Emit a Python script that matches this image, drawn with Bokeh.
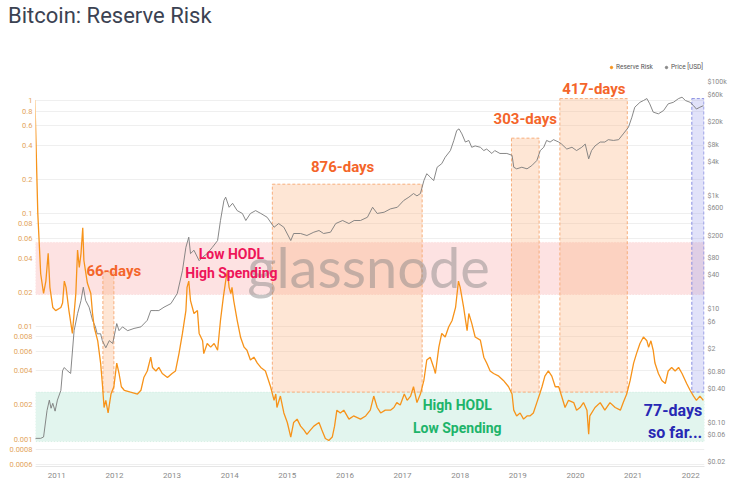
from bokeh.plotting import figure
from bokeh.models import (Range1d, LogAxis, LogScale, FixedTicker, BoxAnnotation,
                          Legend, LegendItem, ColumnDataSource, Div, CustomJSTickFormatter)
from bokeh.layouts import column
from bokeh.core.properties import value
from bokeh.embed import file_html
from bokeh.resources import INLINE

# ---------------- data ----------------
rr_year = [2010.62, 2010.67, 2010.72, 2010.77, 2010.81, 2010.85, 2010.88, 2010.93, 2010.98, 2011.07,
           2011.10, 2011.13, 2011.16, 2011.21, 2011.27, 2011.33, 2011.36, 2011.39, 2011.42, 2011.45,
           2011.47, 2011.53, 2011.59, 2011.62, 2011.65, 2011.71, 2011.76, 2011.79, 2011.82, 2011.85,
           2011.89, 2011.94, 2011.99, 2012.04, 2012.08, 2012.12, 2012.17, 2012.28, 2012.40, 2012.46,
           2012.51, 2012.57, 2012.63, 2012.66, 2012.72, 2012.77, 2012.83, 2012.92, 2013.00, 2013.06,
           2013.12, 2013.18, 2013.24, 2013.26, 2013.29, 2013.32, 2013.38, 2013.44, 2013.47, 2013.53,
           2013.55, 2013.61, 2013.67, 2013.73, 2013.79, 2013.84, 2013.89, 2013.93, 2013.96, 2013.99,
           2014.02, 2014.04, 2014.07, 2014.13, 2014.19, 2014.25, 2014.30, 2014.36, 2014.42, 2014.48,
           2014.54, 2014.62, 2014.71, 2014.77, 2014.80, 2014.82, 2014.88, 2014.94, 2015.00, 2015.06,
           2015.11, 2015.17, 2015.23, 2015.29, 2015.34, 2015.40, 2015.46, 2015.55, 2015.60, 2015.66,
           2015.72, 2015.78, 2015.82, 2015.86, 2015.92, 2015.98, 2016.07, 2016.15, 2016.27, 2016.36,
           2016.44, 2016.50, 2016.56, 2016.62, 2016.70, 2016.79, 2016.85, 2016.90, 2016.96, 2017.03,
           2017.08, 2017.14, 2017.19, 2017.25, 2017.31, 2017.37, 2017.42, 2017.48, 2017.54, 2017.57,
           2017.63, 2017.68, 2017.74, 2017.80, 2017.86, 2017.92, 2017.97, 2018.00, 2018.06, 2018.12,
           2018.15, 2018.20, 2018.26, 2018.35, 2018.41, 2018.46, 2018.52, 2018.58, 2018.67, 2018.75,
           2018.84, 2018.90, 2018.93, 2018.98, 2019.04, 2019.10, 2019.16, 2019.21, 2019.27, 2019.33,
           2019.38, 2019.42, 2019.47, 2019.53, 2019.59, 2019.65, 2019.71, 2019.76, 2019.82, 2019.88,
           2019.97, 2020.02, 2020.08, 2020.14, 2020.20, 2020.23, 2020.25, 2020.34, 2020.43, 2020.51,
           2020.60, 2020.69, 2020.78, 2020.83, 2020.89, 2020.95, 2021.01, 2021.06, 2021.12, 2021.18,
           2021.24, 2021.27, 2021.31, 2021.35, 2021.38, 2021.44, 2021.50, 2021.56, 2021.61, 2021.67,
           2021.73, 2021.79, 2021.85, 2021.93, 2021.99, 2022.05, 2022.10, 2022.16, 2022.22]
rr_value = [1.0, 0.099, 0.029, 0.0194, 0.025, 0.044, 0.022, 0.0146, 0.0137, 0.0146,
            0.016, 0.025, 0.022, 0.0137, 0.0086, 0.0194, 0.047, 0.033, 0.044, 0.074,
            0.038, 0.024, 0.0194, 0.0129, 0.0097, 0.0074, 0.0047, 0.0031, 0.0019, 0.0022,
            0.0017, 0.0025, 0.0029, 0.0047, 0.0038, 0.0029, 0.0027, 0.0026, 0.0025, 0.0027,
            0.0035, 0.004, 0.0053, 0.0043, 0.004, 0.0043, 0.0038, 0.0035, 0.0038, 0.004,
            0.0057, 0.0086, 0.0137, 0.022, 0.025, 0.0168, 0.0129, 0.0137, 0.0086, 0.0074,
            0.0057, 0.007, 0.0065, 0.007, 0.0061, 0.0112, 0.018, 0.025, 0.031, 0.022,
            0.0194, 0.022, 0.0168, 0.0112, 0.0079, 0.0065, 0.0061, 0.005, 0.0053, 0.0047,
            0.0043, 0.004, 0.0029, 0.0022, 0.0025, 0.0019, 0.0024, 0.0017, 0.0014, 0.00104,
            0.0014, 0.0015, 0.0013, 0.0012, 0.0011, 0.0012, 0.0013, 0.0014, 0.0012, 0.00101,
            0.00097, 0.00104, 0.0013, 0.0018, 0.0017, 0.0018, 0.0015, 0.0016, 0.0015, 0.0016,
            0.0018, 0.0024, 0.0019, 0.0017, 0.0018, 0.0018, 0.0019, 0.0021, 0.002, 0.0025,
            0.0022, 0.0024, 0.0029, 0.0021, 0.0025, 0.0033, 0.005, 0.0053, 0.0043, 0.0038,
            0.0065, 0.0086, 0.008, 0.0098, 0.0112, 0.0146, 0.025, 0.022, 0.0146, 0.0091,
            0.0129, 0.0106, 0.008, 0.0075, 0.0053, 0.0047, 0.004, 0.0038, 0.0036, 0.0033,
            0.0029, 0.0025, 0.0018, 0.0016, 0.0017, 0.0015, 0.0016, 0.0016, 0.0017, 0.0021,
            0.0025, 0.0029, 0.0036, 0.004, 0.0036, 0.0029, 0.0029, 0.0024, 0.0019, 0.0022,
            0.0021, 0.0018, 0.0019, 0.0021, 0.0018, 0.0011, 0.0016, 0.0019, 0.0021, 0.0018,
            0.0021, 0.0019, 0.0018, 0.0021, 0.0025, 0.0033, 0.0047, 0.0057, 0.007, 0.008,
            0.0074, 0.0065, 0.0074, 0.0061, 0.0047, 0.0038, 0.0033, 0.0031, 0.004, 0.0043,
            0.004, 0.0043, 0.0038, 0.0031, 0.0027, 0.0024, 0.0022, 0.0024, 0.0022]

price_year = [2010.62, 2010.72, 2010.77, 2010.83, 2010.87, 2010.90, 2010.93, 2010.97, 2011.01, 2011.07,
              2011.10, 2011.13, 2011.18, 2011.24, 2011.30, 2011.36, 2011.42, 2011.46, 2011.50, 2011.56,
              2011.59, 2011.62, 2011.67, 2011.70, 2011.76, 2011.79, 2011.85, 2011.91, 2011.97, 2012.04,
              2012.08, 2012.14, 2012.23, 2012.34, 2012.46, 2012.57, 2012.63, 2012.72, 2012.77, 2012.86,
              2012.98, 2013.09, 2013.18, 2013.24, 2013.29, 2013.32, 2013.38, 2013.47, 2013.53, 2013.61,
              2013.70, 2013.79, 2013.84, 2013.90, 2013.93, 2013.99, 2014.05, 2014.13, 2014.22, 2014.28,
              2014.36, 2014.45, 2014.54, 2014.65, 2014.77, 2014.85, 2014.94, 2015.06, 2015.11, 2015.23,
              2015.34, 2015.46, 2015.55, 2015.63, 2015.75, 2015.84, 2015.96, 2016.07, 2016.16, 2016.27,
              2016.39, 2016.48, 2016.56, 2016.68, 2016.79, 2016.91, 2017.02, 2017.11, 2017.19, 2017.25,
              2017.31, 2017.37, 2017.42, 2017.48, 2017.54, 2017.60, 2017.68, 2017.74, 2017.83, 2017.89,
              2017.94, 2017.98, 2018.03, 2018.09, 2018.15, 2018.20, 2018.26, 2018.35, 2018.41, 2018.46,
              2018.55, 2018.60, 2018.69, 2018.81, 2018.90, 2018.93, 2018.98, 2019.07, 2019.16, 2019.24,
              2019.33, 2019.39, 2019.45, 2019.50, 2019.56, 2019.62, 2019.71, 2019.76, 2019.85, 2019.94,
              2020.02, 2020.11, 2020.17, 2020.23, 2020.28, 2020.34, 2020.43, 2020.51, 2020.57, 2020.66,
              2020.75, 2020.83, 2020.92, 2020.98, 2021.03, 2021.12, 2021.18, 2021.24, 2021.29, 2021.35,
              2021.44, 2021.53, 2021.61, 2021.70, 2021.79, 2021.85, 2021.91, 2021.99, 2022.05, 2022.10,
              2022.16, 2022.22]
price_usd = [0.053, 0.053, 0.056, 0.164, 0.25, 0.18, 0.22, 0.16, 0.25, 0.37,
             0.83, 0.94, 0.83, 0.74, 4.2, 8.4, 14.3, 24.5, 14.3, 10.9,
             8.4, 6.4, 4.9, 3.7, 3.7, 2.8, 2.1, 2.8, 2.5, 5.6,
             4.2, 4.9, 4.2, 4.6, 4.9, 6.4, 9.5, 9.5, 9.5, 10.9,
             12.6, 19, 48, 124, 187, 96, 110, 72, 83, 96,
             124, 163, 368, 830, 950, 630, 740, 550, 490, 368,
             490, 550, 490, 420, 280, 325, 280, 163, 217, 217,
             200, 229, 245, 217, 229, 325, 368, 325, 368, 368,
             420, 630, 490, 515, 590, 630, 830, 950, 1100, 1000,
             1100, 1860, 2460, 2150, 1860, 3200, 3700, 4800, 6300, 9500,
             14200, 15200, 12400, 8900, 9500, 7200, 7600, 7200, 6300, 6700,
             5600, 6300, 5600, 5600, 5200, 3200, 3000, 3200, 3000, 3400,
             4200, 6300, 7200, 9500, 8900, 9800, 8900, 8200, 6700, 7200,
             6300, 7200, 8200, 4500, 6300, 7600, 8900, 8900, 9800, 9500,
             9800, 12400, 16200, 24400, 36600, 44700, 48000, 52000, 42000, 30000,
             28000, 32000, 42000, 44700, 52000, 55000, 48000, 44700, 39000, 34000,
             36600, 39000]

# zones (reserve risk values)
red_zone = [0.019, 0.055]
green_zone = [0.00095, 0.0026]

# low-reserve-risk periods
period_start = [2011.80, 2014.74, 2018.89, 2019.73]
period_end = [2011.99, 2017.34, 2019.37, 2020.90]
period_top = [0.030, 0.18, 0.46, 1.03]
period_label = ["66-days", "876-days", "303-days", "417-days"]
current_start = [2022.02]
current_end = [2022.23]
current_top = [1.03]

# ticks
year_ticks = [2011, 2012, 2013, 2014, 2015, 2016, 2017, 2018, 2019, 2020, 2021, 2022]
year_labels = [str(y) for y in year_ticks]
rr_ticks = [0.0006, 0.0008, 0.001, 0.002, 0.004, 0.006, 0.008, 0.01, 0.02, 0.04,
            0.06, 0.08, 0.1, 0.2, 0.4, 0.6, 0.8, 1]
rr_labels = ["0.0006", "0.0008", "0.001", "0.002", "0.004", "0.006", "0.008", "0.01", "0.02", "0.04",
             "0.06", "0.08", "0.1", "0.2", "0.4", "0.6", "0.8", "1"]
price_ticks = [0.02, 0.06, 0.1, 0.4, 0.8, 2, 6, 10, 40, 80, 200, 600, 1000, 4000, 8000,
               20000, 60000, 100000]
price_labels = ["$0.02", "$0.06", "$0.10", "$0.40", "$0.80", "$2", "$6", "$10", "$40", "$80",
                "$200", "$600", "$1k", "$4k", "$8k", "$20k", "$60k", "$100k"]

# ---------------- figure ----------------
FONT = "Roboto"
p = figure(frame_width=669, frame_height=404,
           x_range=Range1d(2010.63, 2022.24), y_range=Range1d(0.000571, 2.15),
           y_axis_type="log", output_backend="svg", toolbar_location=None,
           min_border_left=35, min_border_right=23, min_border_top=5, min_border_bottom=19,
           background_fill_color="white", border_fill_color="white")
p.outline_line_color = None
p.extra_y_ranges = {"price": Range1d(0.0169, 225000)}
p.extra_y_scales = {"price": LogScale()}

fmt_js = """
const i = tks.findIndex(t => Math.abs(Math.log(t) - Math.log(tick)) < 1e-4);
return i >= 0 ? lbls[i] : "";
"""


def style_axis(ax, color, size, standoff):
    ax.axis_line_color = None
    ax.major_tick_line_color = None
    ax.minor_tick_line_color = None
    ax.major_tick_out = 0
    ax.major_tick_in = 0
    ax.minor_tick_out = 0
    ax.minor_tick_in = 0
    ax.major_label_text_color = color
    ax.major_label_text_font = FONT
    ax.major_label_text_font_size = size
    ax.major_label_standoff = standoff


# left axis
ly = p.yaxis[0]
ly.ticker = FixedTicker(ticks=rr_ticks)
ly.formatter = CustomJSTickFormatter(args=dict(tks=rr_ticks, lbls=rr_labels), code=fmt_js)
style_axis(ly, "#e3a45c", "7.5px", 3)

# right axis
ry = LogAxis(y_range_name="price", ticker=FixedTicker(ticks=price_ticks),
             formatter=CustomJSTickFormatter(args=dict(tks=price_ticks, lbls=price_labels), code=fmt_js))
style_axis(ry, "#8a8a8a", "7px", 3)
p.add_layout(ry, "right")

# x axis
xa = p.xaxis[0]
xa.ticker = FixedTicker(ticks=year_ticks)
xa.formatter = CustomJSTickFormatter(args=dict(tks=year_ticks, lbls=year_labels),
                                     code="const i = tks.indexOf(Math.round(tick)); return i >= 0 ? lbls[i] : '';")
style_axis(xa, "#8a8a8a", "8px", 6)
xa.axis_line_color = "#e6e6e6"

p.xgrid.visible = False
p.ygrid.ticker = FixedTicker(ticks=rr_ticks)
p.ygrid.grid_line_color = "#efefef"

# zones
p.add_layout(BoxAnnotation(bottom=red_zone[0], top=red_zone[1], level="underlay",
                           fill_color="#fde2e2", fill_alpha=1.0,
                           line_color="#f3a3a3", line_dash="1 2", line_width=1))
p.add_layout(BoxAnnotation(bottom=green_zone[0], top=green_zone[1], level="underlay",
                           fill_color="#e2f5ee", fill_alpha=1.0,
                           line_color="#9bd6bd", line_dash="1 2", line_width=1))

# period bands
psrc = ColumnDataSource(dict(left=period_start, right=period_end, top=period_top,
                             bottom=[green_zone[1]] * len(period_start)))
p.quad(left="left", right="right", top="top", bottom="bottom", source=psrc,
       fill_color="#fbb47f", fill_alpha=0.33, line_color="#f7ae7c", line_dash="3 2", line_width=1)
csrc = ColumnDataSource(dict(left=current_start, right=current_end, top=current_top,
                             bottom=[green_zone[1]]))
p.quad(left="left", right="right", top="top", bottom="bottom", source=csrc,
       fill_color="#9aa0ea", fill_alpha=0.3, line_color="#8a90e2", line_dash="3 2", line_width=1)

# watermark
p.text(x=[2016.41], y=[0.0336], text=["glassnode"], text_font=value("Lato"),
       text_font_size="56px", text_color="#808080", text_alpha=0.45,
       text_align="center", text_baseline="middle")

# lines
p.line(price_year, price_usd, y_range_name="price", line_color="#7a7a7a", line_width=0.9)
p.line(rr_year, rr_value, line_color="#f7931a", line_width=1.3)

# annotations
p.text(x=[2011.99, 2015.96, 2019.13, 2020.32], y=[0.0304, 0.253, 0.686, 1.26], text=period_label,
       text_font=value(FONT), text_font_style="bold", text_font_size="15px",
       text_color="#f4652a", text_align="center", text_baseline="middle")
p.text(x=[2014.03, 2014.03], y=[0.0438, 0.0292], text=["Low HODL", "High Spending"],
       text_font=value(FONT), text_font_style="bold", text_font_size="14px",
       text_color="#ee1559", text_align="center", text_baseline="middle")
p.text(x=[2017.95, 2017.95], y=[0.00198, 0.00124], text=["High HODL", "Low Spending"],
       text_font=value(FONT), text_font_style="bold", text_font_size="14px",
       text_color="#1db46a", text_align="center", text_baseline="middle")
p.text(x=[2022.20, 2022.20], y=[0.00179, 0.00114], text=["77-days", "so far..."],
       text_font=value(FONT), text_font_style="bold", text_font_size="16px",
       text_color="#2828b4", text_align="right", text_baseline="middle")

# legend (marker renderers placed outside the visible range)
d1 = p.scatter(x=[2000], y=[1e-6], size=5, color="#f7931a")
d2 = p.scatter(x=[2000], y=[1e-6], size=5, color="#888888")
leg = Legend(items=[LegendItem(label="Reserve Risk", renderers=[d1]),
                    LegendItem(label="Price [USD]", renderers=[d2])],
             location="top_right", orientation="horizontal",
             background_fill_alpha=0, border_line_alpha=0,
             label_text_font=FONT, label_text_font_size="6.5px", label_text_color="#555555",
             glyph_width=6, glyph_height=6, label_standoff=2, spacing=10, padding=0, margin=1,
             label_height=8)
p.add_layout(leg)

title = Div(text="Bitcoin: Reserve Risk", width=716, height=47,
            styles={"font-family": "Roboto", "font-size": "22px", "color": "#3b4252",
                    "line-height": "22px", "padding-left": "3px"})

layout = column(title, p, spacing=0)

open("out.html", "w").write(file_html(layout, INLINE))
